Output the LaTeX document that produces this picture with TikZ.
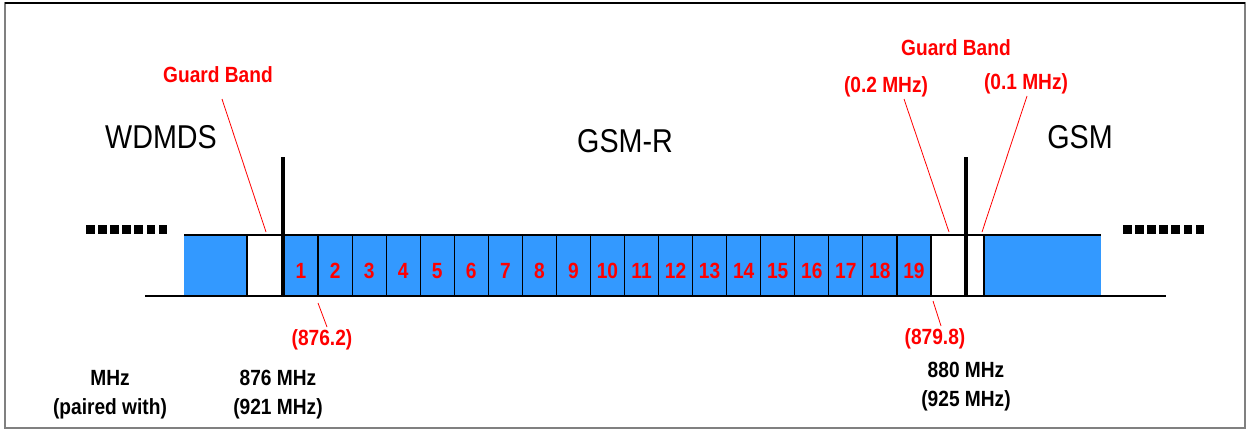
\documentclass[tikz,border=0pt]{standalone}
\usepackage{fontspec}
\setmainfont{Liberation Sans}
\newfontfamily\condfont[FakeStretch=0.87]{Liberation Sans}
\usetikzlibrary{positioning}
\definecolor{bandblue}{HTML}{3399FF}
\definecolor{lblred}{HTML}{FF0000}

\begin{document}
\begin{tikzpicture}[x=1pt,y=-1pt,
    chan/.style={draw,line width=1.2pt,fill=bandblue,minimum width=34.05pt,
      minimum height=61pt,inner sep=0pt,outer sep=0pt},
    num/.style={text=lblred,font=\condfont\fontsize{22}{26}\selectfont\bfseries},
    redlbl/.style={text=lblred,font=\condfont\fontsize{22}{26}\selectfont\bfseries},
    blklbl/.style={font=\condfont\fontsize{22}{26}\selectfont\bfseries},
    sysname/.style={font=\condfont\fontsize{33}{38}\selectfont},
    guard/.style={lblred,line width=0.8pt},
    bar/.style={line width=4pt}]
  \useasboundingbox (0,0) rectangle (1246,429);
  % frame
  \draw[gray,line width=1.5pt] (5,3) rectangle (1245,428);
  \draw[line width=2pt] (5,3) -- (1245,3);

  % neighbouring bands and guard bands
  \fill[bandblue] (184,235) rectangle (247,296);
  \fill[bandblue] (984,235) rectangle (1101,296);
  \draw[line width=1.2pt] (247,235) -- (247,296);
  \draw[line width=1.2pt] (984,235) -- (984,296);
  \draw[line width=1.2pt] (184,235) -- (1101,235);

  % GSM-R channels
  \node[chan,anchor=north west] (ch1) at (284,235) {};
  \foreach \k [evaluate=\k as \prev using int(\k-1)] in {2,...,19}
    \node[chan,right=0pt of ch\prev] (ch\k) {};
  \foreach \k in {1,...,19}
    \node[num] (n\k) at ([yshift=-5.5pt]ch\k.center) {\k};

  \draw[line width=1.2pt] (145,296) -- (1166,296);
  \draw[bar] (283,157) -- (283,296);
  \draw[bar] (966,157) -- (966,296);

  % dots
  \foreach \i in {0,...,6} {
    \fill (86+12.1*\i,225) rectangle +(8.5,8.5);
    \fill (1123+12.1*\i,225) rectangle +(8.5,8.5);
  }

  % system names
  \node[sysname] (wdmds) at (161,137) {WDMDS};
  \node[sysname] (gsmr) at (625,141) {GSM-R};
  \node[sysname] (gsm) at (1080,137) {GSM};

  % guard band labels
  \node[redlbl] (gbL) at (218,75) {Guard Band};
  \node[redlbl] (gbR) at (956,48) {Guard Band};
  \node[redlbl] (gbA) at (886,87) {(0.2 MHz)};
  \node[redlbl] (gbB) at (1026,84) {(0.1 MHz)};
  \coordinate (gbLs) at (222,99);
  \coordinate (gbLe) at (266,232);
  \coordinate (gbAs) at (904,99);
  \coordinate (gbAe) at (949,232);
  \coordinate (gbBs) at (1027,96);
  \coordinate (gbBe) at (982,232);
  \draw[guard] (gbLs) -- (gbLe);
  \draw[guard] (gbAs) -- (gbAe);
  \draw[guard] (gbBs) -- (gbBe);

  % channel edges
  \node[redlbl] (f1) at (322,340) {(876.2)};
  \node[redlbl] (f19) at (935,339) {(879.8)};
  \coordinate (f1s) at (318,303);
  \coordinate (f1e) at (327,327);
  \coordinate (f19s) at (933,301);
  \coordinate (f19e) at (941,326);
  \draw[guard] (f1s) -- (f1e);
  \draw[guard] (f19s) -- (f19e);

  % frequencies
  \node[blklbl] (mhz) at (110,378) {MHz};
  \node[blklbl] (paired) at (110,409) {(paired with)};
  \node[blklbl] (f876) at (278,378) {876 MHz};
  \node[blklbl] (f921) at (278,409) {(921 MHz)};
  \node[blklbl] (f880) at (966,370) {880 MHz};
  \node[blklbl] (f925) at (966,401) {(925 MHz)};
\end{tikzpicture}
\end{document}
